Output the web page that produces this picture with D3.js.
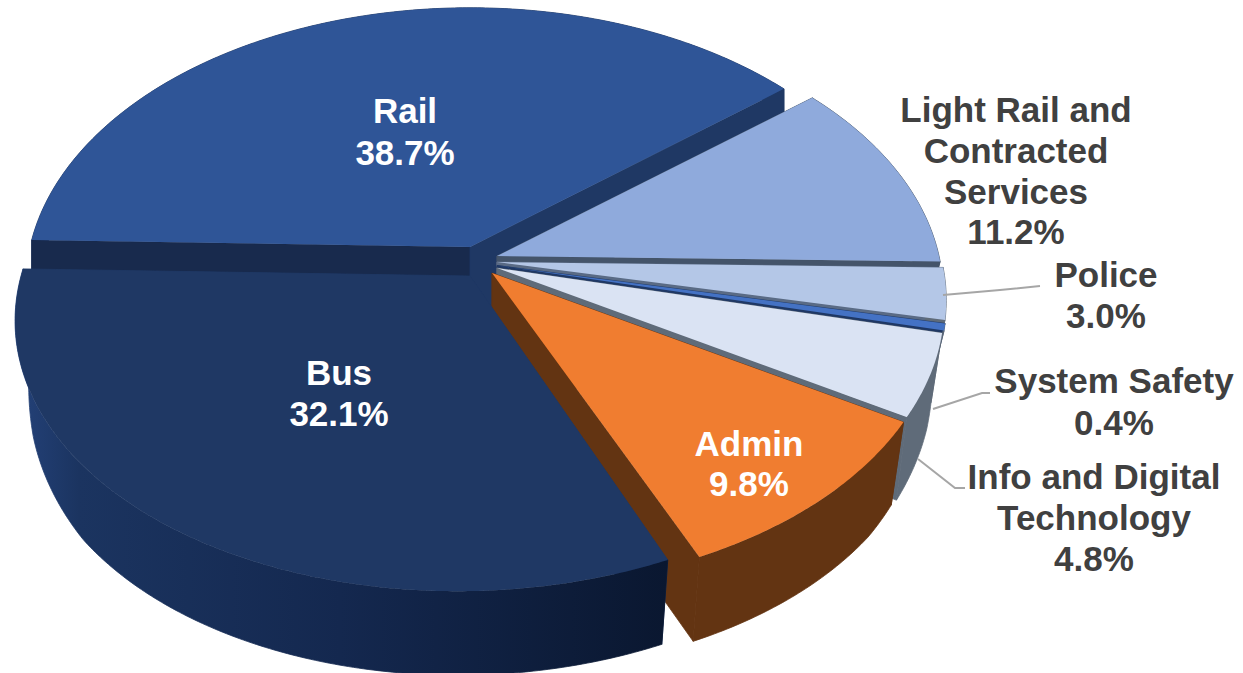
<!DOCTYPE html>
<html>
<head>
<meta charset="utf-8">
<script src="https://cdn.jsdelivr.net/npm/d3@7"></script>
<style>
  html, body { margin: 0; padding: 0; background: #fff; }
  svg { display: block; }
  text { font-family: "Liberation Sans", Arial, sans-serif; font-weight: 700; font-size: 35px; }
</style>
</head>
<body>
<svg id="chart" width="1243" height="673"></svg>
<script>
// Budget shares, clockwise from the left edge of the Rail slice
const categories = ["Rail", "Light Rail and Contracted Services", "Police", "System Safety", "Info and Digital Technology", "Admin", "Bus"];
const shares = [38.7, 11.2, 3.0, 0.4, 4.8, 9.8, 32.1];

// Colours for each slice
const topColors = ["#2f5597", "#8faadc", "#b4c7e7", "#4472c4", "#dae3f3", "#f07d30", "#1f3864"];
const wallColors = ["#1f3864", "#44546a", "#5f6b79", "#5f6b79", "#5f6b79", "#633412", "url(#busWall)"];
const startSideColors = ["#182a4d", "#44546a", "#5a6b85", "#1f3864", "#5f6b79", "#633412", "#1f3864"];
const endSideColors = ["#1f3864", "#44546a", "#5a6b85", "#1f3864", "#5f6b79", "#633412", "#1f3864"];

// Exploded slice hubs and radii, in pixels
const hubX = [470, 497, 497, 497, 497, 492, 470];
const hubY = [247, 256, 262, 265.5, 268, 273, 276];
const radiusX = [440, 442, 445, 445, 443, 445, 449];
const shearX = [0, 0, 0, 0, 0, 0, -11];
const wallInset = [1, 0.97, 0.96, 0.96, 0.975, 0.97, 0.97];
const sidesInFront = [true, false, false, false, false, false, false];
const radiusY = 272;
const perspective = 0.137;
const hubDepth = 84;

// Wall height as a function of how near the rim is to the viewer
const depth = d3.scaleLinear().domain([-1, 0, 0.3, 0.6, 1]).range([12, 50, 76, 86, 84]);

const svg = d3.select("#chart");

const grad = svg.append("defs").append("linearGradient")
  .attr("id", "busWall").attr("gradientUnits", "userSpaceOnUse")
  .attr("x1", 14).attr("x2", 667).attr("y1", 0).attr("y2", 0);
grad.append("stop").attr("offset", 0).attr("stop-color", "#24427a");
grad.append("stop").attr("offset", 0.1).attr("stop-color", "#1b3460");
grad.append("stop").attr("offset", 0.5).attr("stop-color", "#14284f");
grad.append("stop").attr("offset", 1).attr("stop-color", "#0a1730");

const pie = d3.pie().sort(null)
  .startAngle(-88.5 * Math.PI / 180)
  .endAngle((360 - 88.5) * Math.PI / 180);
const arcs = pie(shares);

// Projects a rim angle of slice i onto the page; lower=true gives the bottom rim
function rim(i, angle, lower) {
  const X = Math.sin(angle), Y = -Math.cos(angle), w = 1 - perspective * Y;
  let dx = radiusX[i] * X / w + shearX[i] * Y / w;
  let y = hubY[i] + radiusY * Y / w;
  if (lower) { dx *= wallInset[i]; y += depth(Y); }
  return [hubX[i] + dx, y];
}

function rimPoints(i, a0, a1, lower) {
  const n = Math.max(2, Math.ceil(Math.abs(a1 - a0) / 0.01));
  return d3.range(n + 1).map(k => rim(i, a0 + (a1 - a0) * k / n, lower));
}

const line = d3.line().curve(d3.curveLinearClosed);

// Painter's order: back slices first, Bus last
arcs.forEach((a, i) => {
  const g = svg.append("g").attr("class", "slice");
  const hub = [hubX[i], hubY[i]];
  const hubLow = [hubX[i], hubY[i] + hubDepth];
  const drawSides = () => {
    [[a.startAngle, startSideColors[i]], [a.endAngle, endSideColors[i]]].forEach(([angle, fill]) => {
      g.append("path")
        .attr("d", line([hub, rim(i, angle, false), rim(i, angle, true), hubLow]))
        .attr("fill", fill)
        .attr("stroke", fill)
        .attr("stroke-width", 0.8);
    });
  };
  if (!sidesInFront[i]) drawSides();
  g.append("path")
    .attr("d", line(rimPoints(i, a.startAngle, a.endAngle, false)
      .concat(rimPoints(i, a.endAngle, a.startAngle, true))))
    .attr("fill", wallColors[i])
    .attr("stroke", wallColors[i])
    .attr("stroke-width", 0.8);
  if (sidesInFront[i]) drawSides();
  g.append("path")
    .attr("d", line([hub].concat(rimPoints(i, a.startAngle, a.endAngle, false))))
    .attr("fill", topColors[i]);
});

// Leader lines for the labels outside the pie
const leaders = [
  [[943, 295], [1000, 290], [1040, 286]],
  [[933, 409], [982, 393], [990, 393]],
  [[918, 459], [955, 488], [965, 488]]
];
svg.selectAll("path.leader").data(leaders).join("path")
  .attr("class", "leader")
  .attr("d", d3.line())
  .attr("fill", "none")
  .attr("stroke", "#a6a6a6")
  .attr("stroke-width", 2);

// Label text: wrapped name lines followed by the share
const labelLines = [
  ["Rail"],
  ["Light Rail and", "Contracted", "Services"],
  ["Police"],
  ["System Safety"],
  ["Info and Digital", "Technology"],
  ["Admin"],
  ["Bus"]
];
const labelX = [405, 1016, 1106, 1114, 1094, 749, 339];
const labelY = [111, 110, 275, 381, 477, 444, 373];
const labelStep = [42, 40.7, 41, 42, 41, 40, 41];
const labelColor = ["#ffffff", "#404040", "#404040", "#404040", "#404040", "#ffffff", "#ffffff"];
const pct = d3.format(".1f");

categories.forEach((name, i) => {
  const rows = labelLines[i].concat(pct(shares[i]) + "%");
  svg.append("g").attr("class", "label")
    .selectAll("text").data(rows).join("text")
    .attr("x", labelX[i])
    .attr("y", (d, k) => labelY[i] + k * labelStep[i])
    .attr("dy", "0.35em")
    .attr("text-anchor", "middle")
    .attr("fill", labelColor[i])
    .text(d => d);
});
</script>
</body>
</html>
